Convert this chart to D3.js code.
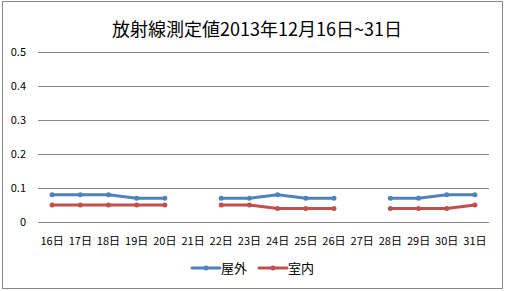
<!DOCTYPE html>
<html>
<head>
<meta charset="utf-8">
<script src="https://cdn.jsdelivr.net/npm/d3@7"></script>
<style>
  body { margin: 0; background: #fff; }
  text { font-family: "Noto Sans CJK JP", "Noto Sans", sans-serif; fill: #000; }
</style>
</head>
<body>
<svg id="chart" width="505" height="291"></svg>
<script>
let days = ["16日","17日","18日","19日","20日","21日","22日","23日","24日","25日","26日","27日","28日","29日","30日","31日"];
let outdoor = [0.08,0.08,0.08,0.07,0.07,null,0.07,0.07,0.08,0.07,0.07,null,0.07,0.07,0.08,0.08];
let indoor  = [0.05,0.05,0.05,0.05,0.05,null,0.05,0.05,0.04,0.04,0.04,null,0.04,0.04,0.04,0.05];
let yTicks = [0, 0.1, 0.2, 0.3, 0.4, 0.5];
let seriesNames = ["屋外", "室内"];
let colors = ["#4F81BD", "#C0504D"];

let svg = d3.select("#chart");

// chart frame
svg.append("rect")
    .attr("x", 2.5).attr("y", 1.5)
    .attr("width", 500).attr("height", 287)
    .style("fill", "#fff")
    .style("stroke", "#888")
    .style("stroke-width", 1);

svg.append("text")
    .attr("x", 257).attr("y", 36)
    .attr("text-anchor", "middle")
    .style("font-size", "18px")
    .text("放射線測定値2013年12月16日~31日");

let pl = 38, pr = 489, pt = 52, pb = 222;

let x = d3.scaleBand().domain(days).range([pl, pr]);
let y = d3.scaleLinear().domain([0, 0.5]).range([pb, pt]);

// gridlines
svg.append("g")
    .selectAll("line")
    .data(yTicks)
    .enter()
    .append("line")
    .attr("x1", pl).attr("x2", pr)
    .attr("y1", d => Math.round(y(d)) + 0.5)
    .attr("y2", d => Math.round(y(d)) + 0.5)
    .style("stroke", "#868686")
    .style("stroke-width", 1);

// y labels
svg.append("g")
    .selectAll("text")
    .data(yTicks)
    .enter()
    .append("text")
    .attr("x", 26)
    .attr("y", d => y(d) + 4)
    .attr("text-anchor", "end")
    .style("font-size", "11px")
    .text(d => d === 0 ? "0" : d3.format(".1f")(d));

// x labels
svg.append("g")
    .selectAll("text")
    .data(days)
    .enter()
    .append("text")
    .attr("x", d => x(d) + x.bandwidth()/2)
    .attr("y", 245)
    .attr("text-anchor", "middle")
    .style("font-size", "11px")
    .text(d => d);

let line = d3.line()
    .defined(d => d != null)
    .x((d, i) => x(days[i]) + x.bandwidth()/2)
    .y(d => y(d));

[outdoor, indoor].forEach((vals, s) => {
    let g = svg.append("g");
    g.append("path")
        .attr("d", line(vals))
        .style("fill", "none")
        .style("stroke", colors[s])
        .style("stroke-width", 3)
        .style("stroke-linejoin", "round")
        .style("stroke-linecap", "round");
    g.selectAll("circle")
        .data(vals.map((v, i) => ({v: v, i: i})).filter(d => d.v != null))
        .enter()
        .append("circle")
        .attr("cx", d => x(days[d.i]) + x.bandwidth()/2)
        .attr("cy", d => y(d.v))
        .attr("r", 2.5)
        .style("fill", colors[s]);
});

// legend
let legendX = [192, 259];
seriesNames.forEach((name, s) => {
    let lg = svg.append("g").attr("transform", "translate(" + legendX[s] + ",268)");
    lg.append("line")
        .attr("x1", 0).attr("x2", 28)
        .style("stroke", colors[s])
        .style("stroke-width", 3)
        .style("stroke-linecap", "round");
    lg.append("circle").attr("cx", 14).attr("r", 2.5).style("fill", colors[s]);
    lg.append("text")
        .attr("x", 29).attr("y", 5)
        .style("font-size", "13px")
        .text(name);
});
</script>
</body>
</html>
